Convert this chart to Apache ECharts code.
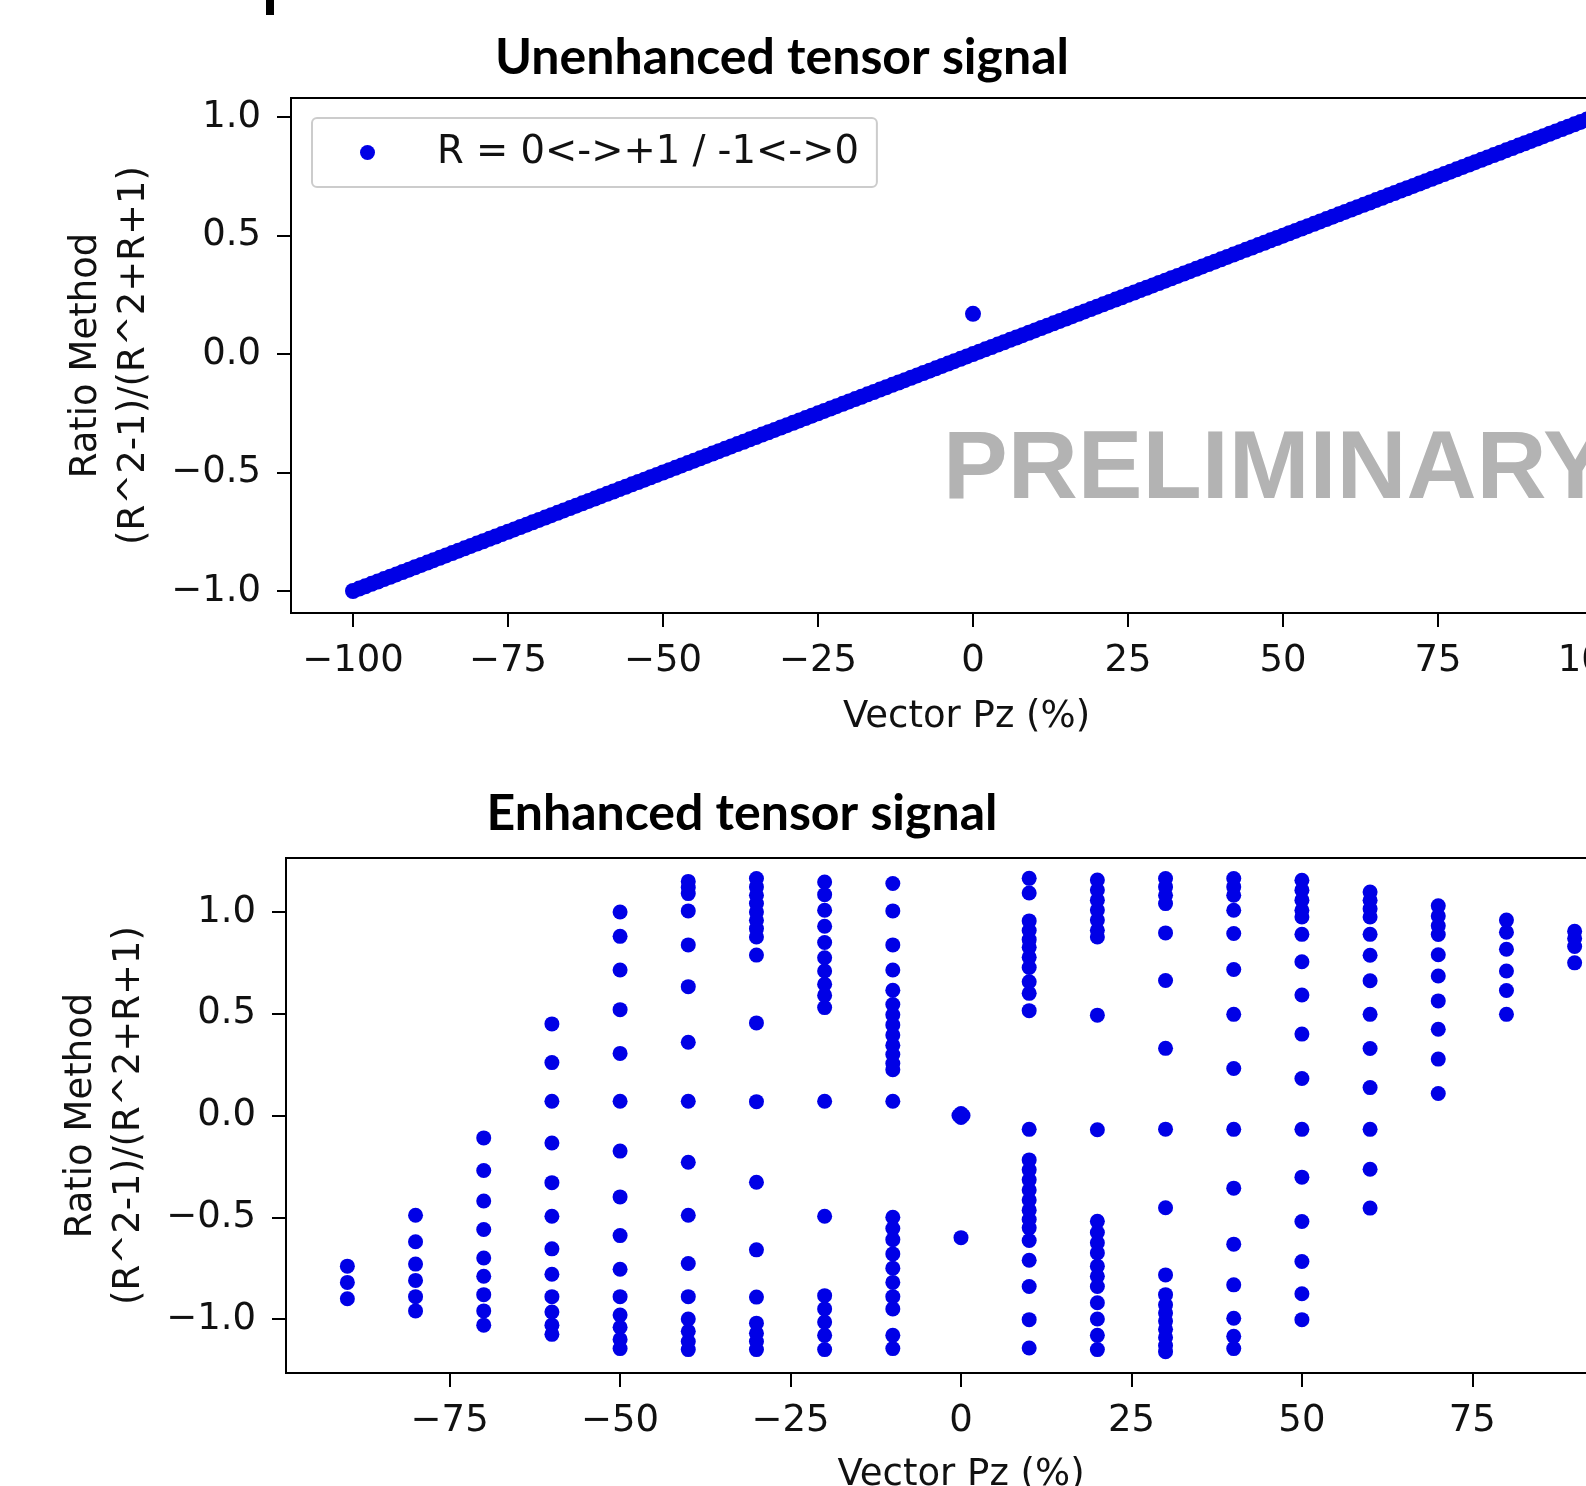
<!DOCTYPE html>
<html>
<head>
<meta charset="utf-8">
<script src="https://cdn.jsdelivr.net/npm/echarts@6/dist/echarts.min.js"></script>
<style>
html,body{margin:0;padding:0;background:#fff;overflow:hidden;}
#chart{width:1586px;height:1486px;}
</style>
</head>
<body>
<div id="chart"></div>
<script>
// ---------- Data ----------
const topTitle = 'Unenhanced tensor signal';
const bottomTitle = 'Enhanced tensor signal';
const seriesName = 'R = 0<->+1 / -1<->0';
const xAxisTitle = 'Vector Pz (%)';
const yAxisTitle = 'Ratio Method\n(R^2-1)/(R^2+R+1)';

const topX = [-100,-99,-98,-97,-96,-95,-94,-93,-92,-91,-90,-89,-88,-87,-86,-85,-84,-83,-82,-81,-80,-79,-78,-77,-76,-75,-74,-73,-72,-71,-70,-69,-68,-67,-66,-65,-64,-63,-62,-61,-60,-59,-58,-57,-56,-55,-54,-53,-52,-51,-50,-49,-48,-47,-46,-45,-44,-43,-42,-41,-40,-39,-38,-37,-36,-35,-34,-33,-32,-31,-30,-29,-28,-27,-26,-25,-24,-23,-22,-21,-20,-19,-18,-17,-16,-15,-14,-13,-12,-11,-10,-9,-8,-7,-6,-5,-4,-3,-2,-1,0,1,2,3,4,5,6,7,8,9,10,11,12,13,14,15,16,17,18,19,20,21,22,23,24,25,26,27,28,29,30,31,32,33,34,35,36,37,38,39,40,41,42,43,44,45,46,47,48,49,50,51,52,53,54,55,56,57,58,59,60,61,62,63,64,65,66,67,68,69,70,71,72,73,74,75,76,77,78,79,80,81,82,83,84,85,86,87,88,89,90,91,92,93,94,95,96,97,98,99,100];
const topY = [-1.00,-0.99,-0.98,-0.97,-0.96,-0.95,-0.94,-0.93,-0.92,-0.91,-0.90,-0.89,-0.88,-0.87,-0.86,-0.85,-0.84,-0.83,-0.82,-0.81,-0.80,-0.79,-0.78,-0.77,-0.76,-0.75,-0.74,-0.73,-0.72,-0.71,-0.70,-0.69,-0.68,-0.67,-0.66,-0.65,-0.64,-0.63,-0.62,-0.61,-0.60,-0.59,-0.58,-0.57,-0.56,-0.55,-0.54,-0.53,-0.52,-0.51,-0.50,-0.49,-0.48,-0.47,-0.46,-0.45,-0.44,-0.43,-0.42,-0.41,-0.40,-0.39,-0.38,-0.37,-0.36,-0.35,-0.34,-0.33,-0.32,-0.31,-0.30,-0.29,-0.28,-0.27,-0.26,-0.25,-0.24,-0.23,-0.22,-0.21,-0.20,-0.19,-0.18,-0.17,-0.16,-0.15,-0.14,-0.13,-0.12,-0.11,-0.10,-0.09,-0.08,-0.07,-0.06,-0.05,-0.04,-0.03,-0.02,-0.01,0.00,0.01,0.02,0.03,0.04,0.05,0.06,0.07,0.08,0.09,0.10,0.11,0.12,0.13,0.14,0.15,0.16,0.17,0.18,0.19,0.20,0.21,0.22,0.23,0.24,0.25,0.26,0.27,0.28,0.29,0.30,0.31,0.32,0.33,0.34,0.35,0.36,0.37,0.38,0.39,0.40,0.41,0.42,0.43,0.44,0.45,0.46,0.47,0.48,0.49,0.50,0.51,0.52,0.53,0.54,0.55,0.56,0.57,0.58,0.59,0.60,0.61,0.62,0.63,0.64,0.65,0.66,0.67,0.68,0.69,0.70,0.71,0.72,0.73,0.74,0.75,0.76,0.77,0.78,0.79,0.80,0.81,0.82,0.83,0.84,0.85,0.86,0.87,0.88,0.89,0.90,0.91,0.92,0.93,0.94,0.95,0.96,0.97,0.98,0.99,1.00];
const topOutlierX = [0];
const topOutlierY = [0.17];

const topXTicks = [-100,-75,-50,-25,0,25,50,75,100];
const bottomXTicks = [-75,-50,-25,0,25,50,75];
const yTicks = [-1.0,-0.5,0.0,0.5,1.0];

const enhancedX = [-90,-80,-70,-60,-50,-40,-30,-20,-10,0,10,20,30,40,50,60,70,80,90];
const enhancedY = [
  [-0.74,-0.82,-0.90],
  [-0.49,-0.62,-0.73,-0.81,-0.89,-0.96],
  [-0.11,-0.27,-0.42,-0.56,-0.70,-0.79,-0.88,-0.96,-1.03],
  [0.45,0.26,0.07,-0.135,-0.33,-0.495,-0.655,-0.78,-0.89,-0.965,-1.03,-1.075],
  [1.00,0.88,0.715,0.52,0.305,0.07,-0.175,-0.40,-0.59,-0.755,-0.89,-0.98,-1.04,-1.10,-1.145],
  [1.15,1.12,1.09,1.005,0.838,0.633,0.36,0.07,-0.23,-0.49,-0.727,-0.89,-1.00,-1.06,-1.11,-1.15],
  [1.164,1.123,1.082,1.041,1.00,0.959,0.918,0.877,0.788,0.455,0.068,-0.328,-0.66,-0.892,-1.02,-1.07,-1.11,-1.15],
  [1.147,1.085,1.008,0.93,0.85,0.775,0.71,0.645,0.59,0.53,0.07,-0.495,-0.885,-0.95,-1.015,-1.08,-1.15],
  [1.14,1.005,0.838,0.715,0.615,0.545,0.495,0.445,0.395,0.345,0.30,0.255,0.225,0.07,-0.50,-0.555,-0.61,-0.68,-0.75,-0.82,-0.89,-0.95,-1.08,-1.145],
  [0.0,-0.60],
  [1.165,1.093,0.956,0.909,0.864,0.826,0.777,0.727,0.657,0.60,0.515,-0.068,-0.218,-0.267,-0.316,-0.366,-0.415,-0.465,-0.511,-0.552,-0.614,-0.711,-0.84,-1.003,-1.142],
  [1.157,1.108,1.058,1.009,0.96,0.91,0.877,0.493,-0.07,-0.52,-0.575,-0.625,-0.675,-0.74,-0.79,-0.84,-0.92,-1.00,-1.08,-1.15],
  [1.164,1.123,1.082,1.041,0.897,0.663,0.33,-0.067,-0.453,-0.783,-0.88,-0.93,-0.97,-1.01,-1.05,-1.09,-1.13,-1.16],
  [1.164,1.123,1.082,1.008,0.894,0.717,0.497,0.231,-0.068,-0.357,-0.632,-0.832,-0.996,-1.085,-1.145],
  [1.156,1.107,1.058,1.008,0.975,0.89,0.755,0.592,0.40,0.182,-0.068,-0.303,-0.521,-0.717,-0.876,-1.003],
  [1.098,1.057,1.016,0.975,0.89,0.787,0.662,0.497,0.329,0.137,-0.068,-0.264,-0.455],
  [1.03,0.98,0.932,0.889,0.79,0.685,0.563,0.424,0.277,0.108],
  [0.96,0.90,0.817,0.71,0.614,0.497],
  [0.905,0.87,0.83,0.75]
];
// overlapping points forming the larger blob near the origin
const centerBlob = [[-0.3,0.0],[0.3,0.0],[0.0,0.01],[0.0,-0.01]];

// ---------- Build ----------
const topData = topX.map((x, i) => [x, topY[i]]);
topOutlierX.forEach((x, i) => topData.push([x, topOutlierY[i]]));
const bottomData = [];
enhancedX.forEach((x, i) => enhancedY[i].forEach(y => bottomData.push([x, y])));
centerBlob.forEach(p => bottomData.push(p));

const BLUE = '#0000e6';
const FONT = 'DejaVu Sans';
const TXT = '#111';
const minus = s => String(s).replace('-', '\u2212');

function xAxisCfg(grid, min, max, ticks, gap, namePad) {
  return {
    type: 'value', gridIndex: grid, min: min, max: max, position: 'bottom',
    name: xAxisTitle, nameLocation: 'middle', nameGap: gap,
    nameTextStyle: {fontSize: 37, fontFamily: FONT, color: TXT, padding: namePad},
    axisLine: {show: true, onZero: false, lineStyle: {color: '#000', width: 2}},
    axisTick: {show: true, length: 14, inside: false, customValues: ticks, lineStyle: {color: '#000', width: 2}},
    axisLabel: {show: true, customValues: ticks, margin: 30, fontSize: 37, fontFamily: FONT, color: TXT,
      formatter: v => minus(v)},
    splitLine: {show: false}
  };
}
function yAxisCfg(grid, min, max) {
  return {
    type: 'value', gridIndex: grid, min: min, max: max, position: 'left',
    name: yAxisTitle, nameLocation: 'middle', nameRotate: 90, nameGap: 133,
    nameTextStyle: {fontSize: 37, lineHeight: 48, fontFamily: FONT, color: TXT, align: 'center'},
    axisLine: {show: true, onZero: false, lineStyle: {color: '#000', width: 2}},
    axisTick: {show: true, length: 14, inside: false, customValues: yTicks, lineStyle: {color: '#000', width: 2}},
    axisLabel: {show: true, customValues: yTicks, margin: 30, fontSize: 37, fontFamily: FONT, color: TXT,
      formatter: v => minus(Number(v).toFixed(1))},
    splitLine: {show: false}
  };
}

const chart = echarts.init(document.getElementById('chart'), null, {renderer: 'canvas'});
chart.setOption({
  animation: false,
  backgroundColor: '#ffffff',
  title: [
    {text: topTitle, left: 782, top: 33, textAlign: 'center', padding: 0,
     textStyle: {fontFamily: 'Lato', fontWeight: 'bold', fontSize: 50, color: '#000'}},
    {text: bottomTitle, left: 742, top: 789, textAlign: 'center', padding: 0,
     textStyle: {fontFamily: 'Lato', fontWeight: 'bold', fontSize: 50, color: '#000'}}
  ],
  legend: {
    data: [seriesName], left: 312, top: 118, orient: 'horizontal',
    icon: 'circle', itemWidth: 15, itemHeight: 15,
    padding: [15, 18, 15, 48],
    backgroundColor: 'rgba(255,255,255,0.85)', borderColor: '#cccccc', borderWidth: 2, borderRadius: 5,
    textStyle: {fontSize: 38.5, fontFamily: FONT, color: TXT, padding: [0, 0, 0, 57]},
    selectedMode: false
  },
  grid: [
    {left: 291, top: 98, width: 1364, height: 515, show: true, borderColor: '#000', borderWidth: 2,
     backgroundColor: '#fff', containLabel: false, outerBoundsMode: 'none'},
    {left: 286, top: 858, width: 1350, height: 515, show: true, borderColor: '#000', borderWidth: 2,
     backgroundColor: '#fff', containLabel: false, outerBoundsMode: 'none'}
  ],
  xAxis: [xAxisCfg(0, -110, 110, topXTicks, 86, [0, 13, 0, 0]), xAxisCfg(1, -99, 99, bottomXTicks, 84, 0)],
  yAxis: [yAxisCfg(0, -1.093, 1.081), yAxisCfg(1, -1.265, 1.265)],
  series: [
    {name: seriesName, type: 'scatter', xAxisIndex: 0, yAxisIndex: 0, data: topData,
     symbol: 'circle', symbolSize: 16, itemStyle: {color: BLUE, opacity: 1}, emphasis: {disabled: true}},
    {name: 'Enhanced', type: 'scatter', xAxisIndex: 1, yAxisIndex: 1, data: bottomData,
     symbol: 'circle', symbolSize: 15, itemStyle: {color: BLUE, opacity: 1}, emphasis: {disabled: true}}
  ],
  graphic: [
    {type: 'rect', left: 266, top: 0, shape: {width: 8, height: 15}, style: {fill: '#000'}, z: 100},
    {type: 'text', x: 943, y: 471, z: 100,
     style: {text: 'PRELIMINARY', fill: '#b3b3b3', font: 'bold 97px "Liberation Sans", Arial, sans-serif',
             align: 'left', verticalAlign: 'middle'}}
  ]
});
</script>
</body>
</html>
